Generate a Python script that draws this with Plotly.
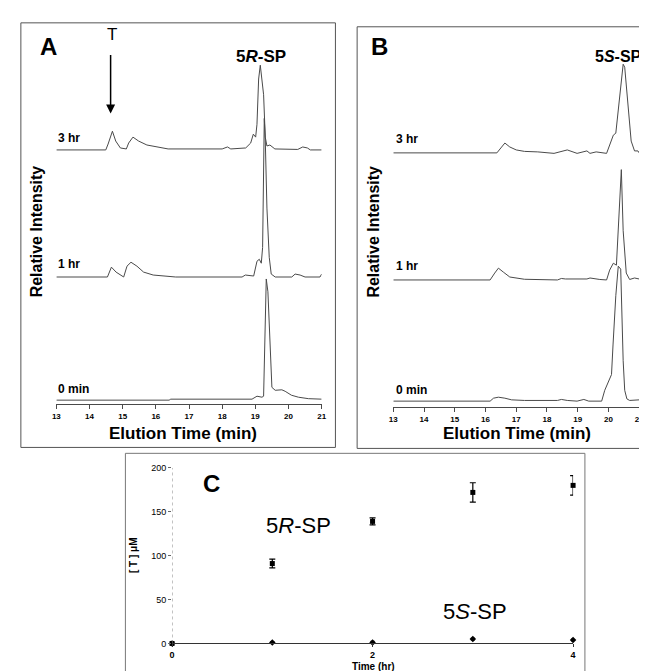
import plotly.graph_objects as go

W, H = 647, 671

# ---------------- Data: chromatograms (elution time min, relative intensity) ----------------
A_0min_t = [13.0, 16.4, 16.45, 18.7, 18.9, 19.05, 19.2, 19.25, 19.3, 19.33, 19.38, 19.45, 19.5, 19.6, 19.8, 19.9, 20.09, 20.3, 20.6, 21.0]
A_0min_i = [0, 0, 1, 1, 1, 4, 3, 4, 75, 123, 110, 60, 13, 10, 10.5, 9, 5, 3, 1.5, 1]

A_1hr_t = [13.0, 14.54, 14.66, 14.8, 15.03, 15.13, 15.25, 15.43, 15.63, 15.92, 16.6, 18.6, 18.7, 18.95, 19.05, 19.12, 19.18, 19.22, 19.27, 19.3, 19.35, 19.42, 19.48, 19.6, 20.1, 20.2, 20.35, 20.5, 20.95, 21.0]
A_1hr_i = [0, 0, 10, 5, 0, 11, 15, 11, 5, 2, 0, 0, 2, 1, 16, 18, 14, 30, 161, 140, 70, 20, 3, 0, 0, 3, 2, 0, 0, 3]

A_3hr_t = [13.0, 14.49, 14.56, 14.69, 14.79, 14.93, 15.11, 15.18, 15.31, 15.48, 15.73, 16.03, 16.37, 18.0, 18.16, 18.26, 18.71, 18.86, 18.94, 19.01, 19.05, 19.1, 19.15, 19.25, 19.3, 19.35, 19.44, 19.59, 20.28, 20.43, 20.57, 20.66, 21.0]
A_3hr_i = [0, 0, 6, 19, 9, 2, 1, 7, 13, 9, 5, 3, 1, 1, 3, 1, 2, 7, 16, 13, 26, 72, 86, 56, 13, 4, 5, 1, 0.5, 3, 2, 0, 0]

B_0min_t = [13.0, 16.15, 16.26, 16.42, 16.63, 16.85, 17.27, 18.34, 18.47, 18.66, 18.98, 19.2, 19.36, 19.78, 19.88, 20.02, 20.1, 20.15, 20.24, 20.32, 20.4, 20.48, 20.53, 20.6, 20.69, 21.0]
B_0min_i = [0, 0, 3, 4, 3, 1.3, 0.7, 0.7, 1.7, 0.7, 0, 1.7, 0, 0, 11, 21, 27, 57, 107, 137, 134, 41, 11, 2.3, 0.7, 1.3]

B_1hr_t = [13.0, 16.15, 16.3, 16.42, 16.58, 16.79, 17.27, 18.34, 18.47, 18.6, 19.3, 19.4, 19.72, 19.94, 20.04, 20.16, 20.26, 20.29, 20.42, 20.48, 20.53, 20.58, 20.69, 20.85, 21.0]
B_1hr_i = [0, 0, 7, 12, 8, 3, 0.7, 0, 1.5, 1, 1, 2, 0.5, 0, 10, 17, 15, 31, 112, 50, 25, 7, 0.5, 2, 1]

B_3hr_t = [13.0, 16.37, 16.5, 16.63, 16.79, 17.0, 17.27, 17.7, 18.23, 18.66, 18.98, 19.3, 19.4, 19.6, 19.94, 20.06, 20.16, 20.24, 20.37, 20.48, 20.53, 20.64, 20.74, 20.85, 20.96, 21.0]
B_3hr_i = [0, 0, 5, 10, 6, 3, 1.5, 1, -0.5, 3, -0.5, 2, -0.5, 1, -0.5, 9, 18, 20, 59, 90, 87, 48, 12, 2, 2, 0]

x_ticks_elution = [13, 14, 15, 16, 17, 18, 19, 20, 21]

# ---------------- Data: panel C ----------------
time_hr = [0, 1, 2, 3, 4]
R_T = [0, 91, 139, 172, 180]
R_err = [0, 5, 4, 11, 11]
S_T = [0, 1, 1, 5, 4]
S_err = [0, 1, 1.5, 1, 1]
c_yticks = [0, 50, 100, 150, 200]
c_xticks = [0, 2, 4]

# ---------------- helpers for layout positions ----------------
def px(x):
    return x / W

def py(y):
    return 1 - y / H

LINE = "#4a4a4a"
FONT = "Liberation Sans, Arial, sans-serif"

fig = go.Figure()

# Stack offsets (styling)
offA = {"0min": 0, "1hr": 125, "3hr": 254}
offB = {"0min": 0, "1hr": 123, "3hr": 252}

for t, i, k in [(A_0min_t, A_0min_i, "0min"), (A_1hr_t, A_1hr_i, "1hr"), (A_3hr_t, A_3hr_i, "3hr")]:
    fig.add_trace(go.Scatter(x=t, y=[v + offA[k] for v in i], mode="lines",
                             line=dict(color=LINE, width=1), xaxis="x", yaxis="y", showlegend=False,
                             cliponaxis=False))
for t, i, k in [(B_0min_t, B_0min_i, "0min"), (B_1hr_t, B_1hr_i, "1hr"), (B_3hr_t, B_3hr_i, "3hr")]:
    fig.add_trace(go.Scatter(x=t, y=[v + offB[k] for v in i], mode="lines",
                             line=dict(color=LINE, width=1), xaxis="x2", yaxis="y2", showlegend=False,
                             cliponaxis=False))

# Panel C
fig.add_trace(go.Scatter(x=time_hr, y=R_T, mode="markers",
                         marker=dict(symbol="square", size=5, color="black"),
                         error_y=dict(type="data", array=R_err, color="black", thickness=1.2, width=3),
                         xaxis="x3", yaxis="y3", showlegend=False, cliponaxis=False))
fig.add_trace(go.Scatter(x=time_hr, y=S_T, mode="markers",
                         marker=dict(symbol="diamond", size=5, color="black"),
                         error_y=dict(type="data", array=S_err, color="black", thickness=1, width=2),
                         xaxis="x3", yaxis="y3", showlegend=False, cliponaxis=False))

tickfont_small = dict(size=8, family=FONT, color="black", weight="bold")

fig.update_layout(
    width=W, height=H,
    margin=dict(l=0, r=0, t=0, b=0),
    paper_bgcolor="white", plot_bgcolor="rgba(0,0,0,0)",
    xaxis=dict(domain=[px(45), px(314)], range=[13, 21], anchor="y",
               showline=True, linecolor=LINE, linewidth=1, ticks="outside", ticklen=4,
               tickcolor=LINE, tickvals=x_ticks_elution, tickfont=tickfont_small,
               showgrid=False, zeroline=False),
    yaxis=dict(domain=[py(397), py(20)], range=[-4, 373], visible=False, anchor="x"),
    xaxis2=dict(domain=[px(386.7), px(636)], range=[13, 21], anchor="y2",
                showline=True, linecolor=LINE, linewidth=1, ticks="outside", ticklen=4,
                tickcolor=LINE, tickvals=x_ticks_elution, tickfont=tickfont_small,
                showgrid=False, zeroline=False),
    yaxis2=dict(domain=[py(400), py(20)], range=[-6, 374], visible=False, anchor="x2"),
    xaxis3=dict(domain=[px(162.3), px(569)], range=[0, 4], anchor="y3",
                showline=True, linecolor="#333", linewidth=1, ticks="outside", ticklen=3,
                tickcolor="#333", tickvals=c_xticks, tickfont=dict(size=9, family=FONT, color="black", weight="bold"),
                showgrid=False, zeroline=False),
    yaxis3=dict(domain=[py(640), py(461.7)], range=[0, 200], anchor="x3",
                showline=False, ticks="outside", ticklen=3, tickcolor="#666",
                tickvals=c_yticks, tickfont=dict(size=9, family=FONT, color="black"),
                showgrid=False, zeroline=False),
)

# Panel frames
shapes = [
    dict(type="rect", xref="paper", yref="paper", x0=px(9), x1=px(328), y0=py(441), y1=py(10),
         line=dict(color="#555", width=1)),
    dict(type="rect", xref="paper", yref="paper", x0=px(350), x1=px(660), y0=py(442), y1=py(14),
         line=dict(color="#555", width=1)),
    dict(type="rect", xref="paper", yref="paper", x0=px(115), x1=px(581), y0=py(675), y1=py(447),
         line=dict(color="#777", width=1)),
    dict(type="line", xref="x3", yref="y3", x0=0, x1=0, y0=0, y1=200,
         line=dict(color="#888", width=1, dash="dot")),
]
fig.update_layout(shapes=shapes)

def ann(x, y, text, size, bold=False, xanchor="center", yanchor="middle", angle=0, color="black"):
    return dict(xref="paper", yref="paper", x=px(x), y=py(y), text=text, showarrow=False,
                xanchor=xanchor, yanchor=yanchor, textangle=angle,
                font=dict(size=size, family=FONT, color=color, weight="bold" if bold else "normal"))

annotations = [
    ann(37, 34, "A", 24, True),
    ann(101, 22, "T", 17),
    ann(253, 44, "5<i>R</i>-SP", 17, True),
    ann(45, 127, "3 hr", 12, True, xanchor="left"),
    ann(45, 255, "1 hr", 12, True, xanchor="left"),
    ann(45, 382, "0 min", 12, True, xanchor="left"),
    ann(25, 222, "Relative Intensity", 16, True, angle=-90),
    ann(173, 427, "Elution Time (min)", 17, True),
    ann(373, 34, "B", 24, True),
    ann(615, 44, "5<i>S</i>-SP", 16, True),
    ann(387, 128, "3 hr", 12, True, xanchor="left"),
    ann(387, 257, "1 hr", 12, True, xanchor="left"),
    ann(387, 383, "0 min", 12, True, xanchor="left"),
    ann(367, 222, "Relative Intensity", 16, True, angle=-90),
    ann(512, 427, "Elution Time (min)", 17, True),
    ann(202, 478, "C", 24, True),
    ann(291, 520, "5<i>R</i>-SP", 22),
    ann(470, 608, "5<i>S</i>-SP", 22),
    ann(367, 663, "Time (hr)", 10, True),
    ann(124, 550, "[ T ] μM", 10, True, angle=-90),
    # arrow pointing to T peak
    dict(xref="paper", yref="paper", x=px(100), y=py(102), ax=0, ay=-60,
         showarrow=True, arrowhead=2, arrowsize=1.2,
         arrowwidth=1.5, arrowcolor="black", text=""),
]
fig.update_layout(annotations=annotations)

fig.write_html("out.html")
